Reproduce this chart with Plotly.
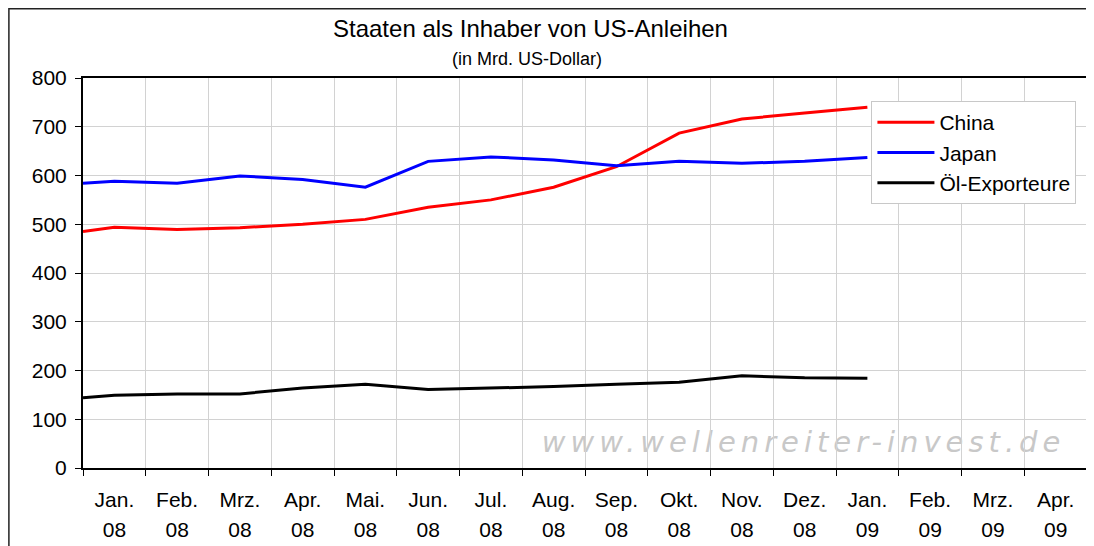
import plotly.graph_objects as go

# ---- data ----
month_labels = ["Jan.", "Feb.", "Mrz.", "Apr.", "Mai.", "Jun.", "Jul.", "Aug.",
                "Sep.", "Okt.", "Nov.", "Dez.", "Jan.", "Feb.", "Mrz.", "Apr."]
year_labels = ["08"] * 12 + ["09"] * 4
# month index of each reading (first reading = start of Jan. 08)
reading_pos = [-0.5, 0, 1, 2, 3, 4, 5, 6, 7, 8, 9, 10, 11, 12]
china = [485, 494, 489, 493, 500, 510, 535, 550, 576, 618, 687, 716, 728, 740]
japan = [584, 588, 584, 599, 592, 576, 629, 638, 632, 620, 629, 625, 629, 637]
oel = [144, 149, 152, 152, 164, 172, 161, 164, 167, 172, 176, 189, 185, 184]

series = [("China", china, "#ff0000"), ("Japan", japan, "#0000ff"),
          ("Öl-Exporteure", oel, "#000000")]

FONT = "Liberation Sans, Arial, sans-serif"
OFF = 8                      # page offset of the plot div (body margin)
W, H = 1094 - OFF, 546 - OFF
ML, MR, MT, MB = 75, 5, 70, 78
PW, PH = W - ML - MR, H - MT - MB


def px(x):  # page x -> paper
    return (x - OFF - ML) / PW


def py(y):  # page y -> paper
    return (H - MB - (y - OFF)) / PH


fig = go.Figure()
for name, vals, col in series:
    fig.add_trace(go.Scatter(x=reading_pos, y=vals, mode="lines", name=name,
                             line=dict(color=col, width=3)))
# dummy trace to carry the second (year) tick row
fig.add_trace(go.Scatter(x=[0], y=[0], xaxis="x2", mode="markers", opacity=0,
                         showlegend=False, hoverinfo="skip"))

idx = list(range(len(month_labels)))

fig.update_layout(
    width=W, height=H,
    margin=dict(l=ML, r=MR, t=MT, b=MB),
    paper_bgcolor="white", plot_bgcolor="rgba(0,0,0,0)",
    font=dict(family=FONT, size=21, color="black"),
    showlegend=True,
    legend=dict(x=px(873), y=py(101), xanchor="left", yanchor="top",
                bgcolor="white", bordercolor="#c8c8c8", borderwidth=1,
                font=dict(family=FONT, size=21), tracegroupgap=0,
                itemwidth=57),
    xaxis=dict(range=[-0.5, 15.5], tickmode="array", tickvals=idx,
               ticktext=month_labels, ticks="", showgrid=False,
               showline=True, linecolor="black", linewidth=1.5, mirror=True,
               ticklabelstandoff=12, zeroline=False,
               minor=dict(tick0=0.5, dtick=1, ticks="outside", ticklen=6,
                          tickcolor="black", tickwidth=1, showgrid=True,
                          gridcolor="#d2d2d2", gridwidth=1)),
    xaxis2=dict(matches="x", overlaying="x", anchor="y", side="bottom",
                tickmode="array", tickvals=idx, ticktext=year_labels,
                ticks="", showgrid=False, showline=False, zeroline=False,
                ticklabelstandoff=47),
    yaxis=dict(range=[0, 800], dtick=100, ticks="outside", ticklen=6,
               tickcolor="black", showgrid=True, gridcolor="#d2d2d2",
               gridwidth=1, showline=True, linecolor="black", linewidth=2,
               mirror=True, zeroline=False, ticklabelstandoff=4),
)

fig.add_annotation(text="Staaten als Inhaber von US-Anleihen", xref="paper",
                   yref="paper", x=px(531), y=py(28), showarrow=False,
                   xanchor="center", yanchor="middle",
                   font=dict(family=FONT, size=24))
fig.add_annotation(text="(in Mrd. US-Dollar)", xref="paper", yref="paper",
                   x=px(528), y=py(59), showarrow=False, xanchor="center",
                   yanchor="middle", font=dict(family=FONT, size=18))

# watermark, drawn beneath the grid
fig.add_shape(type="rect", xref="paper", yref="paper", layer="below",
              x0=px(540), x1=px(1070), y0=py(453), y1=py(427),
              line=dict(width=0), fillcolor="rgba(0,0,0,0)",
              label=dict(text='<i><span style="letter-spacing:5px">www.wellenreiter-invest.de</span></i>',
                         textposition="middle center",
                         font=dict(family="DejaVu Sans, sans-serif", size=29,
                                   color="#c8c8c8")))

# outer chart frame (left and top edges visible)
fig.add_shape(type="rect", xref="paper", yref="paper", x0=px(8.75),
              y0=py(8.75), x1=px(1120), y1=py(580),
              line=dict(color="#222", width=1.5), fillcolor="rgba(0,0,0,0)")

fig.write_html("out.html")
